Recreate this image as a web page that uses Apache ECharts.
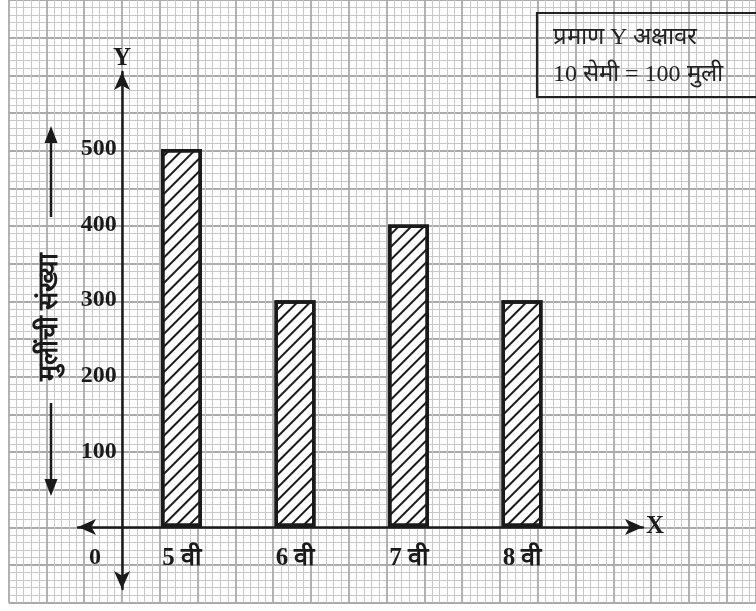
<!DOCTYPE html>
<html>
<head>
<meta charset="utf-8">
<style>
html,body{margin:0;padding:0;background:#fff;}
#chart{width:756px;height:611px;}
</style>
<script src="https://cdn.jsdelivr.net/npm/echarts@6/dist/echarts.min.js"></script>
</head>
<body>
<div id="chart"></div>
<script>
// ---- data ----
const categories = ['5 वी', '6 वी', '7 वी', '8 वी'];
const girls = [500, 300, 400, 300];
const yTickLabels = [100, 200, 300, 400, 500];
const yAxisTitle = 'मुलींची संख्या';
const scaleLines = 'प्रमाण Y अक्षावर\n10 सेमी = 100 मुली';
const originLabel = '0';

const FONT = "'Liberation Serif', 'Times New Roman', serif";
const INK = '#1a1a1a';
const MAJOR = 37.8; // px per graph-paper major square
const PAPER_LEFT = 122 - 3 * MAJOR;

const chart = echarts.init(document.getElementById('chart'), null, {renderer: 'canvas'});

const option = {
  animation: false,
  backgroundColor: '#fff',
  title: {
    text: scaleLines,
    left: 537, top: 13,
    padding: [6, 90, 4, 16],
    borderColor: '#222', borderWidth: 2.2,
    textStyle: {fontFamily: FONT, fontSize: 24, fontWeight: 'normal', color: '#222', lineHeight: 37}
  },
  grid: [
    // graph paper
    {left: PAPER_LEFT, top: 527 - 700 * MAJOR / 50, width: 756 - PAPER_LEFT, height: 16 * MAJOR, containLabel: false},
    // bars
    {left: 124.75, top: 149, width: 454, height: 378, containLabel: false},
    // axes with arrows
    {left: 78, top: 72, width: 565, bottom: 22, containLabel: false}
  ],
  xAxis: [
    {gridIndex: 0, type: 'value', min: -3, max: -3 + (756 - PAPER_LEFT) / MAJOR, interval: 1,
     axisLine: {show: false}, axisTick: {show: false}, axisLabel: {show: false},
     minorTick: {show: false, splitNumber: 5},
     splitLine: {show: true, lineStyle: {color: '#aaaaaa', width: 1.8}},
     minorSplitLine: {show: true, lineStyle: {color: '#c8c8c8', width: 1}}},
    {gridIndex: 1, type: 'category', data: categories,
     axisLine: {show: false}, axisTick: {show: false},
     axisLabel: {margin: 19, fontFamily: FONT, fontSize: 25, fontWeight: 'bold', color: INK},
     splitLine: {show: false}},
    {gridIndex: 2, type: 'value', min: -44, max: 521, z: 5,
     axisLine: {show: true, onZero: true, symbol: ['arrow', 'arrow'], symbolSize: [12, 18],
                lineStyle: {color: INK, width: 2.5}},
     axisTick: {show: false}, axisLabel: {show: false}, splitLine: {show: false},
     name: 'X', nameLocation: 'end', nameGap: 3,
     nameTextStyle: {fontFamily: FONT, fontSize: 25, fontWeight: 'bold', color: INK}}
  ],
  yAxis: [
    {gridIndex: 0, type: 'value', min: -100, max: 700, interval: 50,
     axisLine: {show: false}, axisTick: {show: false}, axisLabel: {show: false},
     minorTick: {show: false, splitNumber: 5},
     splitLine: {show: true, lineStyle: {color: '#aaaaaa', width: 1.8}},
     minorSplitLine: {show: true, lineStyle: {color: '#c8c8c8', width: 1}}},
    {gridIndex: 1, type: 'value', min: 0, max: 500, interval: 100,
     axisLine: {show: false}, axisTick: {show: false}, splitLine: {show: false},
     axisLabel: {margin: 8, fontFamily: FONT, fontSize: 24, fontWeight: 'bold', color: INK,
       formatter: v => yTickLabels.indexOf(v) >= 0 ? String(v) : ''},
     name: yAxisTitle, nameLocation: 'middle', nameRotate: 90, nameGap: 61,
     nameTextStyle: {fontFamily: FONT, fontSize: 27, fontWeight: 'bold', color: INK, padding: [0, 0, 0, 42]}},
    {gridIndex: 2, type: 'value', min: -62, max: 455, z: 5,
     axisLine: {show: true, onZero: true, symbol: ['arrow', 'arrow'], symbolSize: [12, 18],
                lineStyle: {color: INK, width: 2.5}},
     axisTick: {show: false}, axisLabel: {show: false}, splitLine: {show: false},
     name: 'Y', nameLocation: 'end', nameGap: 1,
     nameTextStyle: {fontFamily: FONT, fontSize: 25, fontWeight: 'bold', color: INK}}
  ],
  series: [
    {type: 'bar', xAxisIndex: 1, yAxisIndex: 1, data: girls, barWidth: 41, z: 3,
     itemStyle: {color: '#fff', borderColor: INK, borderWidth: 3.5,
       decal: {symbol: 'rect', symbolSize: 1, color: INK, dashArrayX: [1, 0], dashArrayY: [1.6, 6.4],
               rotation: -Math.PI / 4}}}
  ],
  graphic: [
    {type: 'text', left: 89, top: 546, z: 10,
     style: {text: originLabel, font: 'bold 24px ' + FONT, fill: INK}},
    {type: 'line', z: 10, shape: {x1: 51, y1: 217, x2: 51, y2: 138}, style: {stroke: INK, lineWidth: 2.5}},
    {type: 'polygon', z: 10, shape: {points: [[51, 126], [44.5, 143], [57.5, 143]]}, style: {fill: INK}},
    {type: 'line', z: 10, shape: {x1: 51, y1: 403, x2: 51, y2: 483}, style: {stroke: INK, lineWidth: 2.5}},
    {type: 'polygon', z: 10, shape: {points: [[51, 496], [44.5, 479], [57.5, 479]]}, style: {fill: INK}}
  ]
};
chart.setOption(option);
</script>
</body>
</html>
